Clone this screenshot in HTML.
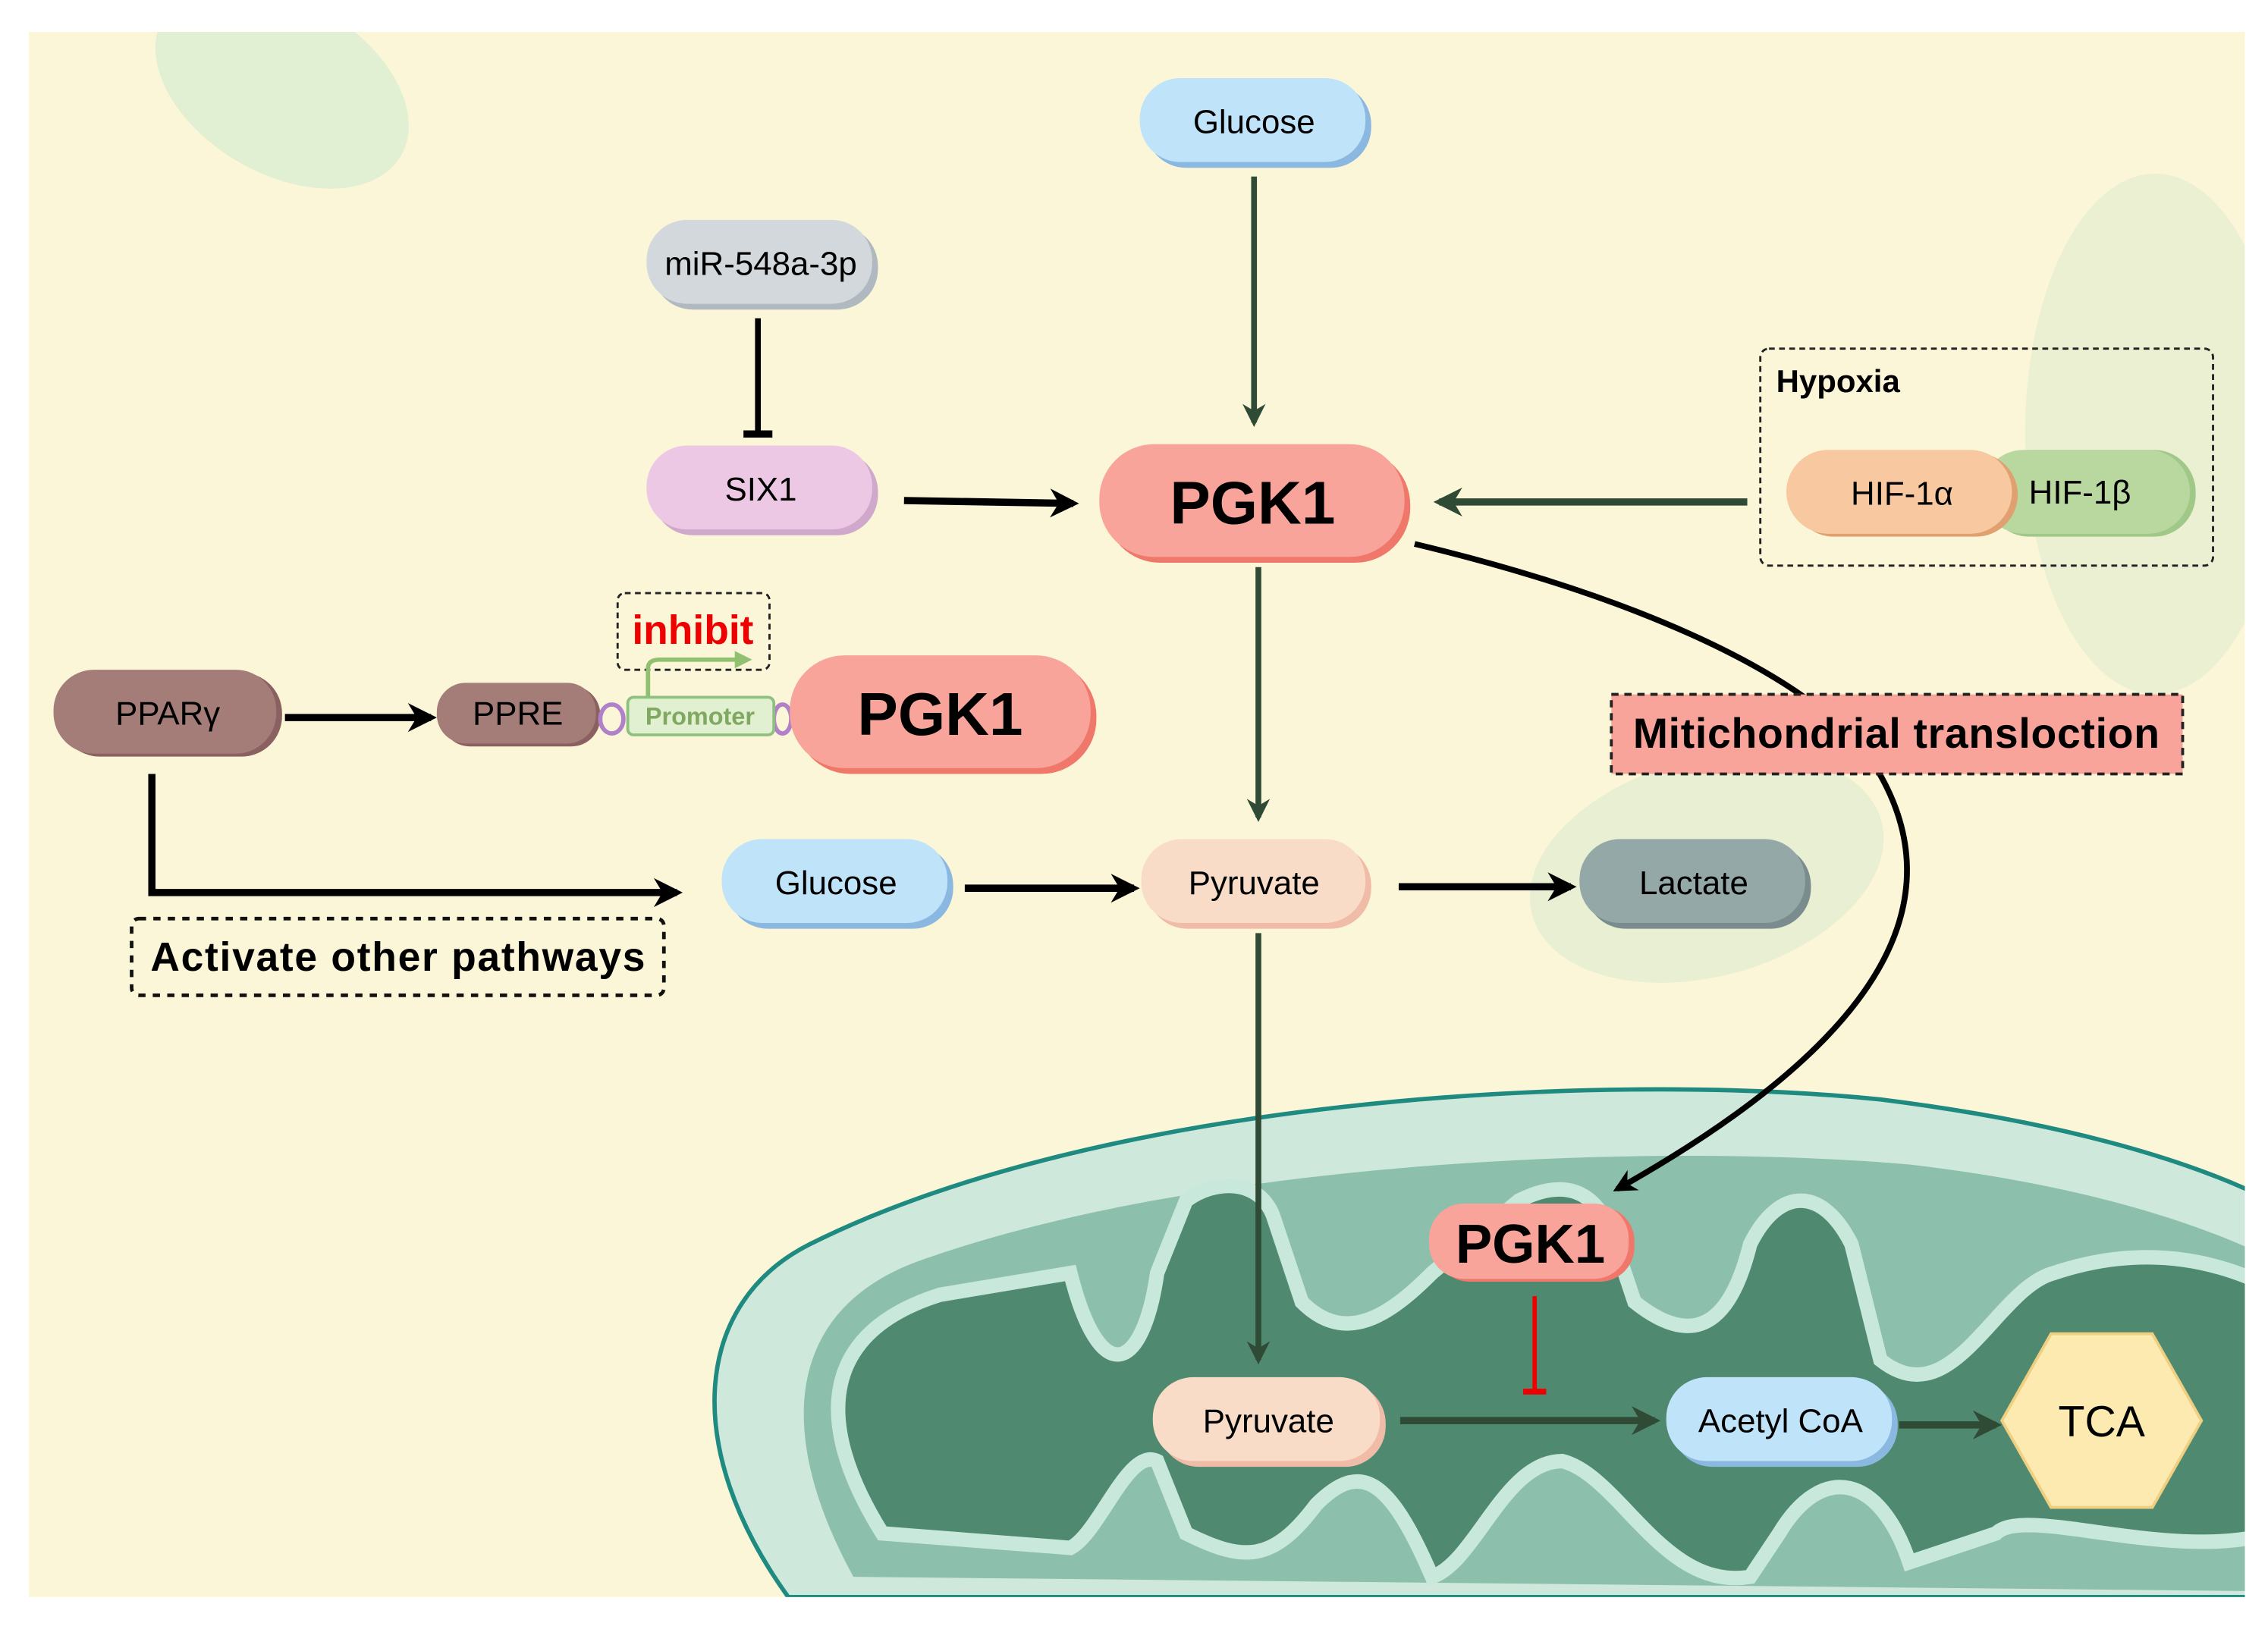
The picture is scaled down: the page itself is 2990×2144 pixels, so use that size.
<!DOCTYPE html>
<html><head><meta charset="utf-8"><style>
html,body{margin:0;padding:0;background:#fff}
svg{display:block}
text{font-family:"Liberation Sans",sans-serif}
</style></head><body>
<svg width="2990" height="2144" viewBox="0 0 1568 1124" preserveAspectRatio="none" xmlns="http://www.w3.org/2000/svg">
<defs>
<marker id="ag" viewBox="0 0 10 10" refX="8" refY="5" markerWidth="4" markerHeight="4" orient="auto"><path d="M0,0 L10,5 L0,10 L3,5z" fill="#2f4a35"/></marker>
<marker id="ab" viewBox="0 0 10 10" refX="8" refY="5" markerWidth="4" markerHeight="4" orient="auto"><path d="M0,0 L10,5 L0,10 L3,5z" fill="#000"/></marker>
<clipPath id="cl"><rect x="20" y="22" width="1532" height="1082"/></clipPath>
</defs>
<rect x="20" y="22" width="1532" height="1082" fill="#fcf6d8"/>
<g clip-path="url(#cl)">
<ellipse cx="195" cy="60" rx="95" ry="60" transform="rotate(30 195 60)" fill="#d6ecd0" opacity="0.7"/>
<ellipse cx="1490" cy="300" rx="90" ry="180" fill="#dcebcf" opacity="0.55"/>
<ellipse cx="1180" cy="600" rx="125" ry="75" transform="rotate(-15 1180 600)" fill="#dfedd0" opacity="0.7"/>
<path d="M545,1104 C470,1000 480,900 560,860 C760,760 1100,740 1300,760 C1420,775 1510,800 1570,830 L1570,1104 Z" fill="#cfe8dc" stroke="#1e8a80" stroke-width="3"/>
<path d="M590,1090 C530,980 550,900 640,870 C840,800 1150,790 1320,805 C1450,820 1530,850 1570,870 L1570,1100 Z" fill="#8cbfac"/>
<path d="M610,1060 C560,980 570,920 650,895 L740,880 C760,960 790,950 800,880 L820,830 C840,815 870,815 880,840 L900,900 C930,930 960,910 990,880 L1050,830 C1090,810 1110,830 1120,870 L1130,900 C1180,940 1200,900 1210,860 C1230,820 1260,820 1280,860 L1300,940 C1350,980 1380,890 1420,880 C1480,860 1530,870 1570,890 L1570,1060 C1500,1080 1400,1040 1380,1060 L1320,1080 C1300,1020 1260,1010 1230,1060 L1210,1090 C1150,1100 1120,1020 1080,1010 C1040,1010 1020,1080 990,1090 C960,1020 940,1010 910,1040 C880,1080 860,1080 820,1060 L800,1010 C780,1000 760,1060 740,1070 Z" fill="#4f8a70" stroke="#c8e8dc" stroke-width="10"/>
</g>
<line x1="867" y1="122" x2="867" y2="292" stroke="#2f4a35" stroke-width="4" marker-end="url(#ag)"/>
<line x1="524" y1="220" x2="524" y2="300" stroke="#000" stroke-width="4"/>
<line x1="514" y1="300" x2="534" y2="300" stroke="#000" stroke-width="5"/>
<line x1="625" y1="346" x2="742" y2="348" stroke="#000" stroke-width="5" marker-end="url(#ab)"/>
<line x1="1208" y1="347" x2="995" y2="347" stroke="#2f4a35" stroke-width="5" marker-end="url(#ag)"/>
<line x1="870" y1="392" x2="870" y2="565" stroke="#2f4a35" stroke-width="4" marker-end="url(#ag)"/>
<line x1="197" y1="496" x2="298" y2="496" stroke="#000" stroke-width="5" marker-end="url(#ab)"/>
<polyline points="105,535 105,617 468,617" fill="none" stroke="#000" stroke-width="5" marker-end="url(#ab)"/>
<line x1="667" y1="614" x2="784" y2="614" stroke="#000" stroke-width="5" marker-end="url(#ab)"/>
<line x1="967" y1="613" x2="1086" y2="613" stroke="#000" stroke-width="5" marker-end="url(#ab)"/>
<line x1="870" y1="645" x2="870" y2="940" stroke="#2f4a35" stroke-width="4" marker-end="url(#ag)"/>
<path d="M978,376 C1120,410 1240,460 1290,520 C1360,620 1300,720 1118,822" fill="none" stroke="#000" stroke-width="4" marker-end="url(#ab)"/>
<line x1="968" y1="982" x2="1144" y2="982" stroke="#2f4a35" stroke-width="5" marker-end="url(#ag)"/>
<line x1="1313" y1="985" x2="1380" y2="985" stroke="#2f4a35" stroke-width="5" marker-end="url(#ag)"/>
<line x1="1061" y1="896" x2="1061" y2="962" stroke="#e00" stroke-width="3"/>
<line x1="1053" y1="962" x2="1069" y2="962" stroke="#e00" stroke-width="4"/>
<rect x="1217" y="241" width="313" height="150" rx="6" fill="none" stroke="#222" stroke-width="1.5" stroke-dasharray="4 3"/>
<text x="1228" y="271" font-size="22" font-weight="bold">Hypoxia</text>
<rect x="427" y="410" width="105" height="53" rx="5" fill="none" stroke="#222" stroke-width="1.5" stroke-dasharray="4 3"/>
<text x="479" y="445" font-size="28" font-weight="bold" fill="#e00" text-anchor="middle">inhibit</text>
<path d="M448,482 V462 Q448,456 456,456 H510" fill="none" stroke="#90c070" stroke-width="3"/>
<path d="M508,450 L520,456 L508,462z" fill="#90c070"/>
<rect x="91" y="635" width="368" height="53" rx="5" fill="none" stroke="#111" stroke-width="2.5" stroke-dasharray="5 5"/>
<text x="275" y="671" font-size="28" font-weight="bold" text-anchor="middle" textLength="342">Activate other pathways</text>
<rect x="1114" y="480" width="395" height="55" fill="#f8a49a" stroke="#222" stroke-width="2" stroke-dasharray="5 4"/>
<text x="1311" y="517" font-size="29" font-weight="bold" text-anchor="middle" textLength="364">Mitichondrial transloction</text>
<g font-size="23" text-anchor="middle">
<rect x="792" y="58" width="156" height="58" rx="28" fill="#8ab8e0"/><rect x="788" y="54" width="156" height="58" rx="28" fill="#bfe3f8"/><text x="867" y="92">Glucose</text>
<rect x="451" y="156" width="156" height="58" rx="28" fill="#b0b8c0"/><rect x="447" y="152" width="156" height="58" rx="28" fill="#d3d8dc"/><text x="526" y="190">miR-548a-3p</text>
<rect x="451" y="312" width="156" height="58" rx="28" fill="#d0a8cc"/><rect x="447" y="308" width="156" height="58" rx="28" fill="#ecc8e4"/><text x="526" y="346">SIX1</text>
<rect x="764" y="311" width="211" height="78" rx="38" fill="#f0786a"/><rect x="760" y="307" width="211" height="78" rx="38" fill="#f8a49a"/><text x="866" y="362" font-size="42" font-weight="bold">PGK1</text>
<rect x="1374" y="311" width="144" height="60" rx="29" fill="#a0c888"/><rect x="1370" y="311" width="144" height="58" rx="29" fill="#b8d8a0"/><text x="1438" y="348">HIF-1β</text>
<rect x="1239" y="313" width="156" height="58" rx="29" fill="#e0a070"/><rect x="1235" y="311" width="156" height="58" rx="29" fill="#f8c8a0"/><text x="1315" y="349">HIF-1α</text>
<rect x="41" y="465" width="154" height="58" rx="28" fill="#8a6060"/><rect x="37" y="463" width="154" height="58" rx="28" fill="#a47c78"/><text x="116" y="501">PPARγ</text>
<rect x="305" y="474" width="110" height="42" rx="20" fill="#8a6060"/><rect x="302" y="472" width="110" height="42" rx="20" fill="#a47c78"/><text x="358" y="501">PPRE</text>
<ellipse cx="423" cy="497" rx="8" ry="10" fill="none" stroke="#b080c8" stroke-width="3"/>
<ellipse cx="541" cy="497" rx="6" ry="10" fill="none" stroke="#b080c8" stroke-width="3"/>
<rect x="434" y="482" width="101" height="26" rx="4" fill="#e0f0d0" stroke="#90c080" stroke-width="2"/><text x="484" y="501" font-size="17" font-weight="bold" fill="#80a860">Promoter</text>
<rect x="550" y="457" width="208" height="78" rx="38" fill="#f0786a"/><rect x="546" y="453" width="208" height="78" rx="38" fill="#f8a49a"/><text x="650" y="508" font-size="42" font-weight="bold">PGK1</text>
<rect x="503" y="584" width="156" height="58" rx="28" fill="#8ab8e0"/><rect x="499" y="580" width="156" height="58" rx="28" fill="#bfe3f8"/><text x="578" y="618">Glucose</text>
<rect x="793" y="584" width="155" height="58" rx="28" fill="#f0bca8"/><rect x="789" y="580" width="155" height="58" rx="28" fill="#f8dcc8"/><text x="867" y="618">Pyruvate</text>
<rect x="1096" y="584" width="156" height="58" rx="28" fill="#7a8c8e"/><rect x="1092" y="580" width="156" height="58" rx="28" fill="#94a8a8"/><text x="1171" y="618">Lactate</text>
<rect x="992" y="834" width="138" height="52" rx="24" fill="#f0786a"/><rect x="988" y="832" width="138" height="52" rx="24" fill="#f8a49a"/><text x="1058" y="873" font-size="38" font-weight="bold">PGK1</text>
<rect x="801" y="956" width="157" height="58" rx="28" fill="#f0bca8"/><rect x="797" y="952" width="157" height="58" rx="28" fill="#f8dcc8"/><text x="877" y="990">Pyruvate</text>
<rect x="1156" y="956" width="156" height="58" rx="28" fill="#8ab8e0"/><rect x="1152" y="952" width="156" height="58" rx="28" fill="#bfe3f8"/><text x="1231" y="990">Acetyl CoA</text>
<polygon points="1418,922 1488,922 1522,982 1488,1042 1418,1042 1384,982" fill="#fdeab0" stroke="#f0d080" stroke-width="2"/>
<text x="1453" y="993" font-size="30">TCA</text>
</g>
</svg>
</body></html>
